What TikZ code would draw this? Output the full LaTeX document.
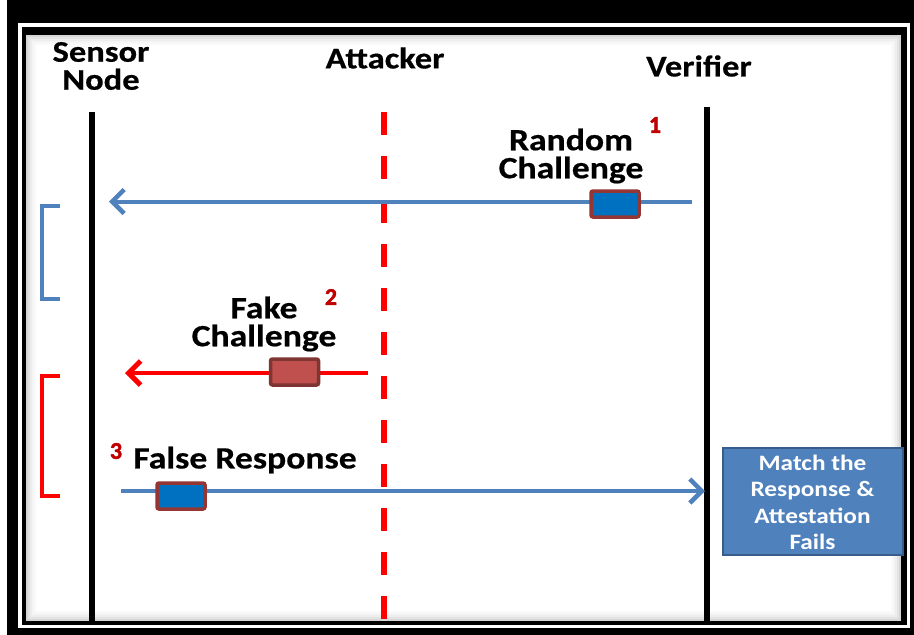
\documentclass[tikz,border=0pt]{standalone}
\usepackage{fontspec}
\setmainfont{Carlito}
\newfontfamily\lblfont{Carlito}[FakeStretch=1.15,FakeBold=0.5]
\newfontfamily\numfont{Carlito}[FakeBold=1.8]
\newfontfamily\boxfont{Carlito}[FakeStretch=1.15]
\usetikzlibrary{arrows.meta}
\definecolor{msgblue}{HTML}{4F81BD}
\definecolor{pktblue}{HTML}{0070C0}
\definecolor{pktedge}{HTML}{943634}
\definecolor{fakefill}{HTML}{C0504D}
\definecolor{fakeedge}{HTML}{7F3533}
\definecolor{numred}{HTML}{C00000}
\definecolor{boxedge}{HTML}{385D8A}
\tikzset{
  lifeline/.style={line width=6pt,black},
  attackline/.style={line width=6pt,red,dash pattern=on 23pt off 21pt},
  msg/.style={line width=4pt,msgblue,-{Straight Barb[length=12pt,width=24pt,line width=4.5pt]}},
  fakemsg/.style={line width=4.5pt,red,-{Straight Barb[length=12pt,width=24pt,line width=5pt]}},
  packet/.style={draw=pktedge,fill=pktblue,line width=3.5pt,rounded corners=2pt,minimum width=48pt,minimum height=26pt,inner sep=0pt},
  fakepacket/.style={draw=fakeedge,fill=fakefill,line width=3.5pt,rounded corners=2pt,minimum width=48pt,minimum height=26pt,inner sep=0pt},
  head/.style={font=\lblfont\bfseries\fontsize{30}{28}\selectfont,align=center,inner sep=0pt},
  lbl/.style={font=\lblfont\bfseries\fontsize{31}{28}\selectfont,align=center,inner sep=0pt},
  num/.style={font=\numfont\bfseries\fontsize{24}{24}\selectfont,text=numred,inner sep=0pt},
  bracket/.style={line width=4pt},
  resultbox/.style={draw=boxedge,fill=msgblue,line width=2pt,minimum width=180pt,minimum height=107pt,inner sep=0pt},
  resulttext/.style={font=\boxfont\bfseries\fontsize{22}{26.3}\selectfont,align=center,inner sep=0pt}
}
\begin{document}
\begin{tikzpicture}[x=1pt,y=-1pt]
\useasboundingbox (0,0) rectangle (914,635);
% double black frame
\fill[black] (7,0) rectangle (914,635);
\fill[white] (18,23) rectangle (910,628);
\fill[black] (22,27) rectangle (907,625);
\fill[white] (26,35) rectangle (901,621);
% soft inner shadow along the frame
\foreach \d/\o in {0/0.16,2/0.11,4/0.07,6/0.04,8/0.02}
  \draw[black,opacity=\o,line width=2pt] (27+\d,36+\d) rectangle (900-\d,620-\d);

% participants
\node[head] (sensor) at (101,66) {Sensor\\Node};
\node[head] (attacker) at (385,58) {Attacker};
\node[head] (verifier) at (699,66) {Verifier};

\coordinate (sTop) at (92,112);
\coordinate (sBot) at (92,621);
\coordinate (aTop) at (384,112);
\coordinate (aBot) at (384,621);
\coordinate (vTop) at (707,107);
\coordinate (vBot) at (707,621);
\draw[lifeline] (sTop) -- (sBot);
\draw[lifeline] (vTop) -- (vBot);
\draw[attackline] (aTop) -- (aBot);

% 1: random challenge from the verifier
\coordinate (m1a) at (692,201.5);
\coordinate (m1b) at (109,201.5);
\draw[msg] (m1a) -- (m1b);
\node[packet] (p1) at (615,204) {};
\node[lbl] (l1) at (571,156) {Random\\Challenge};
\node[num] (n1) at (655,125) {1};

% bracket beside the sensor after the genuine challenge
\coordinate (b1a) at (60,206);
\coordinate (b1b) at (60,299);
\draw[bracket,msgblue] (b1a) -- ++(-18,0) |- (b1b);

% 2: fake challenge injected by the attacker
\coordinate (m2a) at (368,373);
\coordinate (m2b) at (125,373);
\draw[fakemsg] (m2a) -- (m2b);
\node[fakepacket] (p2) at (294.5,372) {};
\node[lbl] (l2) at (264,324) {Fake\\Challenge};
\node[num] (n2) at (331,297) {2};

\coordinate (b2a) at (60,376);
\coordinate (b2b) at (60,496);
\draw[bracket,red] (b2a) -- ++(-18,0) |- (b2b);

% 3: false response towards the verifier
\coordinate (m3a) at (121,491);
\coordinate (m3b) at (705,491);
\draw[msg] (m3a) -- (m3b);
\node[packet] (p3) at (181,496) {};
\node[lbl] (l3) at (245,460) {False Response};
\node[num] (n3) at (116,451) {3};

% verdict box
\node[resultbox] (res) at (812.5,501) {};
\node[resulttext,text=white] (restext) at ([yshift=-1.5pt]res.center) {Match the\\Response \&\\Attestation\\Fails};
\end{tikzpicture}
\end{document}
